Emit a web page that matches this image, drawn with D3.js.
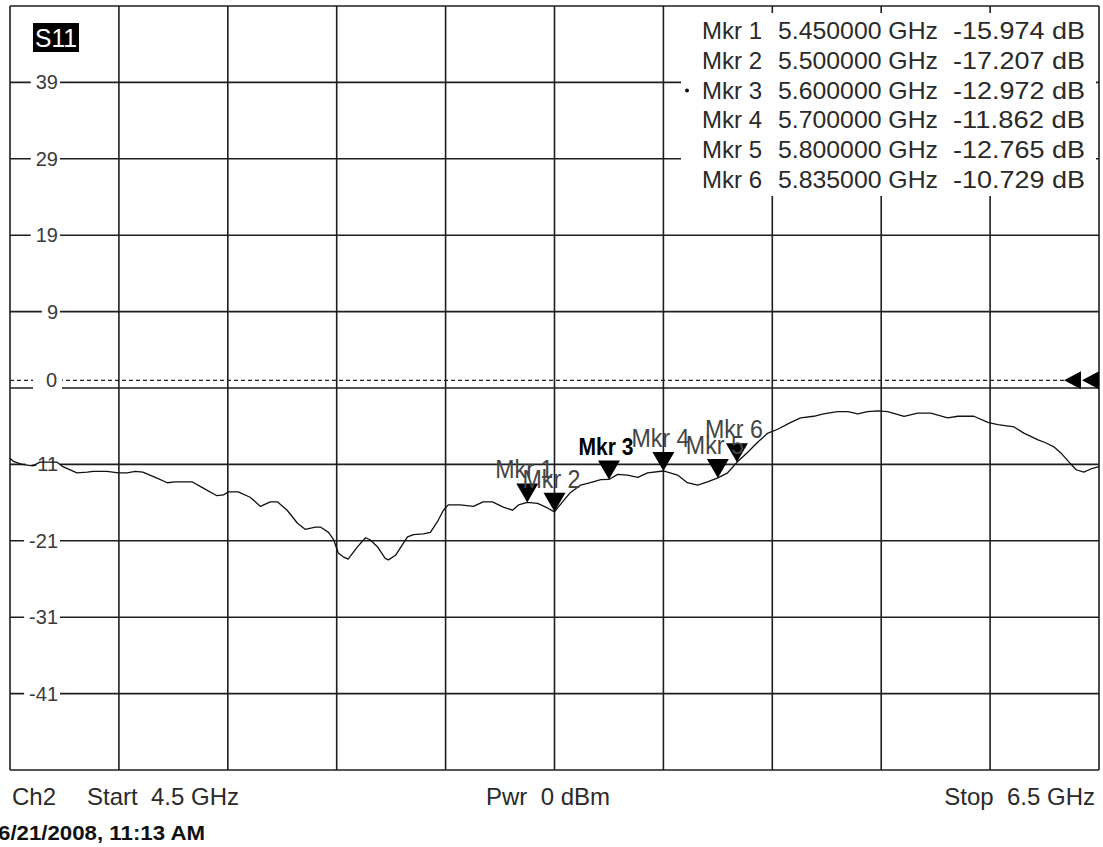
<!DOCTYPE html>
<html>
<head>
<meta charset="utf-8">
<title>S11 sweep</title>
<script src="https://cdnjs.cloudflare.com/ajax/libs/d3/7.8.5/d3.min.js"></script>
<style>
  body { margin: 0; background: #fff; }
  svg { display: block; font-family: "Liberation Sans", Arial, sans-serif; }
  text { white-space: pre; }
</style>
</head>
<body>
<div id="chart"></div>
<script>

// trace
var freqGHz = [
  4.500, 4.506, 4.522, 4.542, 4.555, 4.574, 4.586, 4.597, 4.623, 4.642,
  4.653, 4.678, 4.699, 4.715, 4.730, 4.744, 4.770, 4.789, 4.803, 4.835,
  4.855, 4.880, 4.892, 4.901, 4.919, 4.941, 4.960, 4.978, 4.991, 5.009,
  5.028, 5.042, 5.061, 5.070, 5.085, 5.094, 5.103, 5.112, 5.121, 5.138,
  5.153, 5.162, 5.175, 5.189, 5.195, 5.208, 5.230, 5.241, 5.259, 5.272,
  5.285, 5.296, 5.305, 5.327, 5.351, 5.369, 5.386, 5.406, 5.423, 5.434,
  5.450, 5.469, 5.487, 5.500, 5.517, 5.529, 5.548, 5.566, 5.585, 5.600,
  5.616, 5.634, 5.653, 5.671, 5.700, 5.726, 5.744, 5.763, 5.781, 5.800,
  5.818, 5.835, 5.855, 5.873, 5.892, 5.910, 5.934, 5.952, 5.976, 5.994,
  6.020, 6.039, 6.057, 6.075, 6.094, 6.112, 6.142, 6.167, 6.191, 6.222,
  6.241, 6.270, 6.296, 6.314, 6.344, 6.362, 6.388, 6.403, 6.417, 6.430,
  6.445, 6.458, 6.472, 6.485, 6.500
];
var s11dB = [
  -10.2, -10.6, -11.0, -11.2, -10.7, -10.7, -10.7, -11.3, -12.1, -12.0,
  -11.9, -11.9, -12.1, -12.1, -11.9, -12.0, -12.8, -13.4, -13.3, -13.3,
  -14.1, -15.1, -15.0, -14.6, -14.6, -15.3, -16.5, -15.9, -15.9, -17.0,
  -18.7, -19.5, -19.2, -19.2, -19.9, -20.8, -22.6, -23.1, -23.4, -21.8,
  -20.6, -20.9, -21.8, -23.3, -23.5, -22.9, -20.5, -20.2, -20.1, -19.9,
  -18.5, -17.0, -16.3, -16.3, -16.5, -15.9, -15.9, -16.6, -17.0, -16.3,
  -15.974, -16.1, -16.7, -17.207, -15.7, -14.7, -13.7, -13.4, -13.0, -12.972,
  -12.3, -12.4, -12.7, -12.1, -11.862, -12.4, -13.4, -13.7, -13.3, -12.765,
  -12.1, -10.729, -9.4, -8.1, -6.9, -6.4, -5.5, -4.9, -4.7, -4.4,
  -4.1, -4.1, -4.4, -4.1, -4.0, -4.1, -4.7, -4.3, -4.3, -4.9,
  -4.7, -4.7, -5.5, -5.8, -6.1, -6.9, -7.8, -8.2, -8.7, -9.5,
  -10.7, -11.7, -12.0, -11.6, -11.3
];

// markers
var mkrNames = ["Mkr 1", "Mkr 2", "Mkr 3", "Mkr 4", "Mkr 5", "Mkr 6"];
var mkrFreq = [5.450, 5.500, 5.600, 5.700, 5.800, 5.835];
var mkrDb = [-15.974, -17.207, -12.972, -11.862, -12.765, -10.729];
var activeMkr = 2;

// scale settings
var yTickLabels = [39, 29, 19, 9, -11, -21, -31, -41];
var refValue = 0;
var refPosValue = -1;
var dbPerDiv = 10;
var startGHz = 4.5, stopGHz = 6.5;
var powerDbm = 0;
var channel = "Ch2";
var traceName = "S11";
var stamp = "6/21/2008, 11:13 AM";

window.addEventListener("load", run);

function run() {
    var W = 1103, H = 847;
    var left = 10, right = 1099, top = 6, bottom = 770;

    var svg = d3.select("#chart").append("svg")
        .attr("width", W).attr("height", H);
    svg.append("rect").attr("width", W).attr("height", H).attr("fill", "#fff");

    var x = d3.scaleLinear().domain([startGHz, stopGHz]).range([left, right]);
    var y = d3.scaleLinear()
        .domain([refPosValue - 5 * dbPerDiv, refPosValue + 5 * dbPerDiv])
        .range([bottom, top]);

    var xDiv = d3.range(11).map(function(i) { return startGHz + i * (stopGHz - startGHz) / 10; });
    var yDiv = d3.range(11).map(function(i) { return refPosValue - 5 * dbPerDiv + i * dbPerDiv; });

    var grid = svg.append("g").attr("stroke", "#1e1e1e").attr("stroke-width", 1.6);
    grid.selectAll(".v").data(xDiv).enter().append("line")
        .attr("x1", function(d) { return x(d); }).attr("x2", function(d) { return x(d); })
        .attr("y1", top).attr("y2", bottom);
    grid.selectAll(".h").data(yDiv).enter().append("line")
        .attr("x1", left).attr("x2", right)
        .attr("y1", function(d) { return y(d); }).attr("y2", function(d) { return y(d); });

    // reference line (dashed)
    svg.append("line")
        .attr("x1", left).attr("x2", 1064)
        .attr("y1", y(refValue)).attr("y2", y(refValue))
        .attr("stroke", "#222").attr("stroke-width", 1.3)
        .attr("stroke-dasharray", "4,3");

    // y labels sitting in a gap of the grid line
    var lab = svg.append("g").attr("font-size", 20).attr("fill", "#3a3a3a");
    yTickLabels.forEach(function(v) {
        var t = lab.append("text")
            .attr("x", 58).attr("y", y(v) + 7)
            .attr("text-anchor", "end")
            .text(v);
        var b = t.node().getBBox();
        lab.insert("rect", "text")
            .attr("x", b.x - 5).attr("y", y(v) - 3)
            .attr("width", b.width + 7).attr("height", 6)
            .attr("fill", "#fff");
    });
    lab.insert("rect", "text")
        .attr("x", 33).attr("y", y(refValue) - 3)
        .attr("width", 29).attr("height", y(refPosValue) - y(refValue) + 5)
        .attr("fill", "#fff");
    lab.append("text")
        .attr("x", 57).attr("y", y(refValue) + 7)
        .attr("text-anchor", "end")
        .text(refValue);

    // trace name badge
    svg.append("rect").attr("x", 33).attr("y", 23).attr("width", 46).attr("height", 29)
        .attr("fill", "#000");
    svg.append("text").attr("x", 35).attr("y", 47)
        .attr("font-size", 25).attr("fill", "#fff")
        .attr("textLength", 42).attr("lengthAdjust", "spacingAndGlyphs")
        .text(traceName);

    // trace
    var pts = freqGHz.map(function(f, i) { return [f, s11dB[i]]; });
    svg.append("path")
        .datum(pts)
        .attr("fill", "none")
        .attr("stroke", "#111")
        .attr("stroke-width", 1.3)
        .attr("stroke-linejoin", "round")
        .attr("d", d3.line()
            .x(function(d) { return x(d[0]); })
            .y(function(d) { return y(d[1]); }));

    // marker triangles + labels
    var mk = svg.append("g");
    mkrFreq.forEach(function(f, i) {
        var px = x(f), py = y(mkrDb[i]);
        var p = d3.path();
        p.moveTo(px, py);
        p.lineTo(px - 11, py - 19);
        p.lineTo(px + 11, py - 19);
        p.closePath();
        mk.append("path").attr("d", p.toString()).attr("fill", "#000");
    });
    mkrFreq.forEach(function(f, i) {
        var px = x(f), py = y(mkrDb[i]);
        var on = (i === activeMkr);
        mk.append("text")
            .attr("x", px - 3).attr("y", py - 24)
            .attr("text-anchor", "middle")
            .attr("font-size", on ? 23 : 25)
            .attr("font-weight", on ? "bold" : "normal")
            .attr("fill", on ? "#000" : "#444")
            .attr("textLength", on ? 55 : 58)
            .attr("lengthAdjust", "spacingAndGlyphs")
            .text(mkrNames[i]);
    });

    // marker readout table
    var tb = svg.append("g").attr("font-size", 24).attr("fill", "#2a2a2a");
    tb.append("rect").attr("x", 681).attr("y", 13).attr("width", 415).attr("height", 183)
        .attr("fill", "#fff");
    mkrNames.forEach(function(n, i) {
        var by = 39 + i * 29.8;
        if (i === activeMkr) {
            tb.append("circle").attr("cx", 687).attr("cy", by - 8).attr("r", 2).attr("fill", "#111");
        }
        tb.append("text").attr("x", 702).attr("y", by).text(n);
        tb.append("text").attr("x", 778).attr("y", by)
            .attr("textLength", 160).attr("lengthAdjust", "spacingAndGlyphs")
            .text(mkrFreq[i].toFixed(6) + " GHz");
        tb.append("text").attr("x", 953).attr("y", by)
            .attr("textLength", 132).attr("lengthAdjust", "spacingAndGlyphs")
            .text(mkrDb[i].toFixed(3) + " dB");
    });

    // reference arrows on the right edge
    [1064, 1082].forEach(function(ax) {
        var p = d3.path(), ry = y(refValue);
        p.moveTo(ax, ry);
        p.lineTo(ax + 17, ry - 9);
        p.lineTo(ax + 17, ry + 9);
        p.closePath();
        svg.append("path").attr("d", p.toString()).attr("fill", "#000");
    });

    // footer
    var ft = svg.append("g").attr("font-size", 24).attr("fill", "#2a2a2a");
    ft.append("text").attr("x", 12).attr("y", 805).text(channel);
    ft.append("text").attr("x", 87).attr("y", 805).text("Start  " + startGHz + " GHz");
    ft.append("text").attr("x", 486).attr("y", 805).text("Pwr  " + powerDbm + " dBm");
    ft.append("text").attr("x", 1095).attr("y", 805).attr("text-anchor", "end")
        .text("Stop  " + stopGHz + " GHz");

    svg.append("text").attr("x", -2).attr("y", 840)
        .attr("font-size", 21).attr("font-weight", "bold").attr("fill", "#111")
        .attr("textLength", 207).attr("lengthAdjust", "spacingAndGlyphs")
        .text(stamp);
}
</script>
</body>
</html>
